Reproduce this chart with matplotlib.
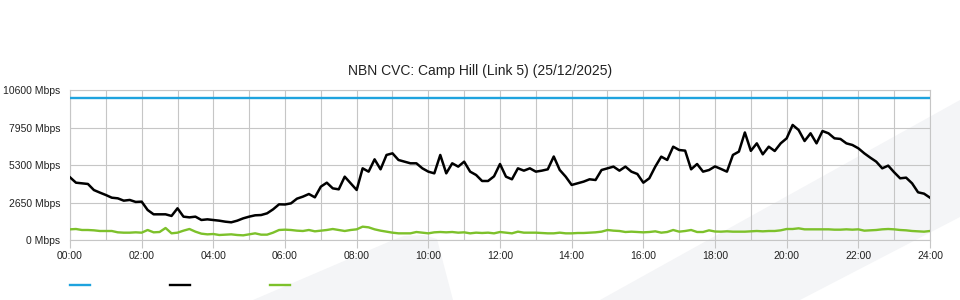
import matplotlib
matplotlib.use("Agg")
import matplotlib.pyplot as plt
import numpy as np
from matplotlib.patches import Polygon
from matplotlib.lines import Line2D
from matplotlib.ticker import MultipleLocator

plt.rcParams['font.family'] = ['Liberation Sans', 'DejaVu Sans']

# --- data (10 minute samples, 00:00 .. 24:00) ---
title = "NBN CVC: Camp Hill (Link 5) (25/12/2025)"
hours = np.arange(145) / 6.0
link_capacity = 10000  # Mbps

download = [
    4430, 4050, 4005, 3960, 3530, 3350,
    3180, 2990, 2945, 2780, 2830, 2690,
    2710, 2120, 1815, 1815, 1815, 1700,
    2240, 1650, 1600, 1650, 1415, 1460,
    1415, 1365, 1295, 1250, 1365, 1530,
    1650, 1745, 1765, 1885, 2165, 2520,
    2510, 2590, 2920, 3065, 3250, 3015,
    3770, 4050, 3650, 3580, 4475, 4005,
    3535, 5065, 4830, 5700, 4995, 6010,
    6125, 5655, 5535, 5420, 5420, 5065,
    4830, 4710, 6010, 4710, 5420, 5185,
    5535, 4830, 4595, 4170, 4170, 4500,
    5370, 4475, 4290, 5065, 4900, 5065,
    4830, 4900, 4995, 5900, 4950, 4475,
    3890, 4005, 4125, 4290, 4240, 4945,
    5065, 5185, 4900, 5185, 4830, 4665,
    4050, 4360, 5185, 5890, 5655, 6595,
    6360, 6315, 4995, 5370, 4830, 4945,
    5200, 5020, 4830, 6010, 6245, 7600,
    6300, 6830, 6055, 6595, 6290, 6830,
    7185, 8130, 7775, 6995, 7540, 6830,
    7700, 7540, 7185, 7140, 6830, 6715,
    6480, 6125, 5820, 5535, 5065, 5255,
    4785, 4360, 4405, 4005, 3370, 3275,
    2990,
]

upload = [
    754, 777, 707, 707, 683, 636,
    636, 636, 542, 518, 518, 542,
    518, 707, 542, 565, 848, 471,
    518, 660, 777, 589, 448, 400,
    424, 353, 377, 400, 353, 330,
    400, 471, 377, 377, 518, 707,
    730, 707, 660, 636, 707, 613,
    660, 707, 777, 707, 636, 707,
    754, 942, 895, 754, 660, 589,
    518, 471, 471, 471, 565, 518,
    471, 542, 565, 542, 565, 518,
    542, 471, 518, 495, 518, 471,
    565, 518, 471, 589, 518, 518,
    518, 495, 471, 471, 518, 471,
    471, 495, 495, 518, 542, 589,
    707, 660, 636, 565, 589, 565,
    542, 565, 613, 518, 565, 707,
    589, 636, 707, 565, 565, 683,
    600, 589, 613, 589, 589, 589,
    613, 636, 613, 636, 636, 683,
    777, 777, 825, 754, 754, 754,
    754, 754, 730, 730, 754, 730,
    754, 660, 683, 707, 754, 777,
    754, 707, 683, 636, 613, 589,
    636,
]

y_ticks = [0, 2650, 5300, 7950, 10600]
x_labels = ["00:00", "02:00", "04:00", "06:00", "08:00", "10:00", "12:00",
            "14:00", "16:00", "18:00", "20:00", "22:00", "24:00"]

blue = "#1ea3de"
green = "#7dc12b"
grid_c = "#c6c6c6"

W, H = 960, 300
fig = plt.figure(figsize=(W / 100, H / 100), dpi=100)

# faint watermark shapes in the background (pixel coords, top-left origin)
shapes = [
    [(253, 300), (393, 240), (404, 236), (424, 235), (437, 239), (453, 300)],
    [(600, 300), (960, 100), (960, 217), (800, 300)],
]
for pts in shapes:
    fig.patches.append(Polygon([(x / W, 1 - y / H) for x, y in pts], closed=True,
                               transform=fig.transFigure, facecolor="#f4f5f7",
                               edgecolor="none", zorder=-5))

ax = fig.add_axes([70 / W, 1 - 240 / H, 860 / W, 150 / H])
ax.set_zorder(2)
ax.set_facecolor("none")
ax.set_xlim(0, 24)
ax.set_ylim(0, 10600)

ax.plot([0, 24], [link_capacity, link_capacity], color=blue, lw=1.7, zorder=3)
ax.plot(hours, download, color="black", lw=1.8, zorder=4)
ax.plot(hours, upload, color=green, lw=1.7, zorder=3)

ax.set_yticks(y_ticks)
ax.set_yticklabels([f"{v} Mbps" for v in y_ticks])
ax.set_xticks(np.arange(0, 25, 2))
ax.set_xticklabels(x_labels)
ax.xaxis.set_minor_locator(MultipleLocator(1))
ax.grid(True, which="both", axis="x", color=grid_c, lw=0.8)
ax.grid(True, which="major", axis="y", color=grid_c, lw=0.8)
ax.tick_params(axis="x", which="major", length=5.8, width=0.8, color=grid_c,
               pad=2, labelsize=7.5, labelcolor="#222")
ax.tick_params(axis="x", which="minor", length=0)
ax.tick_params(axis="y", length=0, pad=7, labelsize=7.5, labelcolor="#222")
for s in ax.spines.values():
    s.set_color(grid_c)
    s.set_linewidth(0.8)

fig.text(0.5, 1 - 71 / H, title, ha="center", va="center",
         fontsize=10, color="#222")

# legend swatches (no labels in the original)
for i, c in enumerate([blue, "black", green]):
    x0 = (70 + 100 * i) / W
    fig.add_artist(Line2D([x0, x0 + 20 / W], [1 - 285 / H] * 2, color=c, lw=1.7,
                          transform=fig.transFigure))

fig.savefig("out.png", dpi=100)
